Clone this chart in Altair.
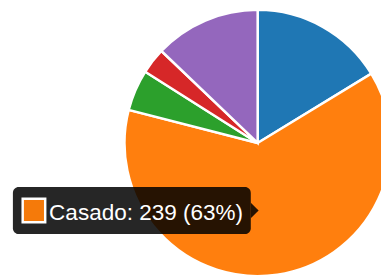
import altair as alt
import pandas as pd

categorias = ["Soltero", "Casado", "Divorciado", "Viudo", "Unión libre"]
valores = [62, 239, 19, 12, 49]
colores = ["#1f77b4", "#ff7f0e", "#2ca02c", "#d62728", "#9467bd"]

df = pd.DataFrame({"estado": categorias, "valor": valores, "orden": list(range(len(categorias)))})

total = sum(valores)
sel = 1
tip_text = f"{categorias[sel]}: {valores[sel]} ({round(100 * valores[sel] / total)}%)"

pie = alt.Chart(df).mark_arc(radius=136, x=255, y=135, stroke="white", strokeWidth=2.5).encode(
    theta=alt.Theta("valor:Q", stack=True),
    color=alt.Color("estado:N", scale=alt.Scale(domain=categorias, range=colores), legend=None),
    order=alt.Order("orden:Q"),
)

tip_df = pd.DataFrame({"t": [tip_text]})

box = alt.Chart(tip_df).mark_rect(cornerRadius=6, fill="black", opacity=0.85).encode(
    x=alt.value(5), x2=alt.value(248), y=alt.value(180), y2=alt.value(228)
)
arrow = alt.Chart(tip_df).mark_point(
    shape="M0,-1L1,0L0,1Z", size=256, filled=True, fill="black", opacity=0.85, strokeWidth=0
).encode(x=alt.value(248), y=alt.value(204))
swatch = alt.Chart(tip_df).mark_rect(fill="#f57a0a", stroke="white", strokeWidth=2.5).encode(
    x=alt.value(15), x2=alt.value(38), y=alt.value(192), y2=alt.value(216)
)
label = alt.Chart(tip_df).mark_text(
    align="left", baseline="alphabetic", fontSize=23, font="Liberation Sans", color="white"
).encode(x=alt.value(42), y=alt.value(214), text="t:N")

chart = alt.layer(pie, box, arrow, swatch, label).properties(
    width=381, height=269, padding=0, autosize=alt.AutoSizeParams(type="none")
).configure_view(strokeWidth=0)

chart.save("out.html", embed_options={"renderer": "svg", "actions": False})
